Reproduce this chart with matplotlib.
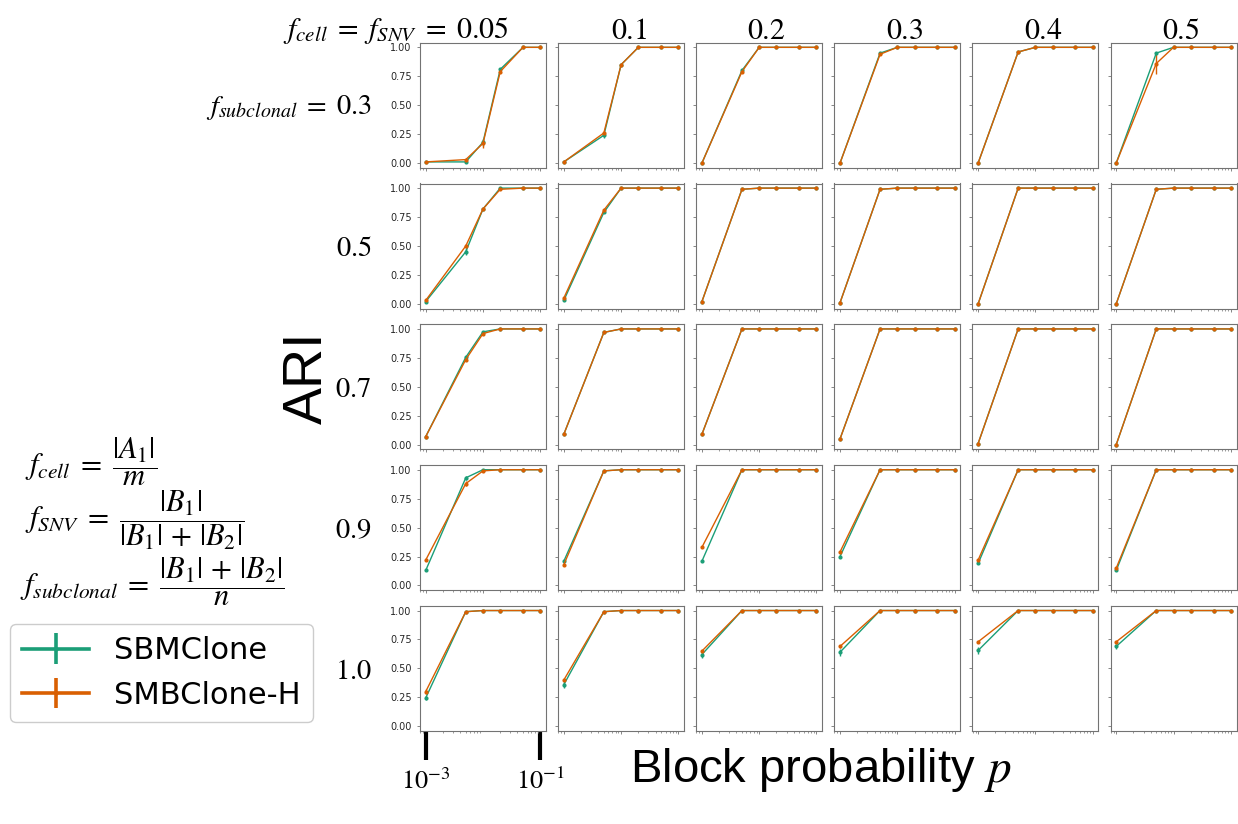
import matplotlib
matplotlib.use("Agg")
import matplotlib.pyplot as plt
from matplotlib.legend_handler import HandlerErrorbar
import numpy as np

plt.rcParams['mathtext.fontset'] = 'stix'

# block probabilities p (x axis, log scale)
P = [0.001, 0.005, 0.01, 0.02, 0.05, 0.1]
# columns: f_cell = f_SNV
F_CELL = ['0.05', '0.1', '0.2', '0.3', '0.4', '0.5']
# rows: f_subclonal
F_SUB = ['0.3', '0.5', '0.7', '0.9', '1.0']

# ARI per row (f_subclonal) -> per column (f_cell) -> values over P
SBM = [
    [[0.01, 0.01, 0.18, 0.81, 1.0, 1.0], [0.01, 0.24, 0.85, 1.0, 1.0, 1.0], [0.0, 0.80, 1.0, 1.0, 1.0, 1.0],
     [0.0, 0.95, 1.0, 1.0, 1.0, 1.0], [0.0, 0.96, 1.0, 1.0, 1.0, 1.0], [0.0, 0.95, 1.0, 1.0, 1.0, 1.0]],
    [[0.02, 0.45, 0.82, 1.0, 1.0, 1.0], [0.03, 0.79, 1.0, 1.0, 1.0, 1.0], [0.02, 0.99, 1.0, 1.0, 1.0, 1.0],
     [0.01, 0.99, 1.0, 1.0, 1.0, 1.0], [0.0, 1.0, 1.0, 1.0, 1.0, 1.0], [0.0, 0.99, 1.0, 1.0, 1.0, 1.0]],
    [[0.07, 0.755, 0.975, 1.0, 1.0, 1.0], [0.09, 0.97, 1.0, 1.0, 1.0, 1.0], [0.09, 1.0, 1.0, 1.0, 1.0, 1.0],
     [0.05, 1.0, 1.0, 1.0, 1.0, 1.0], [0.01, 1.0, 1.0, 1.0, 1.0, 1.0], [0.0, 1.0, 1.0, 1.0, 1.0, 1.0]],
    [[0.13, 0.93, 1.0, 1.0, 1.0, 1.0], [0.21, 0.99, 1.0, 1.0, 1.0, 1.0], [0.21, 1.0, 1.0, 1.0, 1.0, 1.0],
     [0.25, 1.0, 1.0, 1.0, 1.0, 1.0], [0.19, 1.0, 1.0, 1.0, 1.0, 1.0], [0.13, 1.0, 1.0, 1.0, 1.0, 1.0]],
    [[0.245, 0.99, 1.0, 1.0, 1.0, 1.0], [0.36, 0.99, 1.0, 1.0, 1.0, 1.0], [0.62, 1.0, 1.0, 1.0, 1.0, 1.0],
     [0.64, 1.0, 1.0, 1.0, 1.0, 1.0], [0.655, 1.0, 1.0, 1.0, 1.0, 1.0], [0.69, 1.0, 1.0, 1.0, 1.0, 1.0]],
]
SBMH = [
    [[0.01, 0.03, 0.17, 0.79, 1.0, 1.0], [0.01, 0.26, 0.85, 1.0, 1.0, 1.0], [0.0, 0.79, 1.0, 1.0, 1.0, 1.0],
     [0.0, 0.94, 1.0, 1.0, 1.0, 1.0], [0.0, 0.96, 1.0, 1.0, 1.0, 1.0], [0.0, 0.86, 1.0, 1.0, 1.0, 1.0]],
    [[0.03, 0.50, 0.82, 0.99, 1.0, 1.0], [0.05, 0.81, 1.0, 1.0, 1.0, 1.0], [0.02, 0.99, 1.0, 1.0, 1.0, 1.0],
     [0.01, 0.99, 1.0, 1.0, 1.0, 1.0], [0.0, 1.0, 1.0, 1.0, 1.0, 1.0], [0.0, 0.99, 1.0, 1.0, 1.0, 1.0]],
    [[0.07, 0.735, 0.96, 1.0, 1.0, 1.0], [0.09, 0.97, 1.0, 1.0, 1.0, 1.0], [0.09, 1.0, 1.0, 1.0, 1.0, 1.0],
     [0.05, 1.0, 1.0, 1.0, 1.0, 1.0], [0.01, 1.0, 1.0, 1.0, 1.0, 1.0], [0.0, 1.0, 1.0, 1.0, 1.0, 1.0]],
    [[0.22, 0.88, 0.99, 1.0, 1.0, 1.0], [0.18, 0.99, 1.0, 1.0, 1.0, 1.0], [0.33, 1.0, 1.0, 1.0, 1.0, 1.0],
     [0.29, 1.0, 1.0, 1.0, 1.0, 1.0], [0.22, 1.0, 1.0, 1.0, 1.0, 1.0], [0.15, 1.0, 1.0, 1.0, 1.0, 1.0]],
    [[0.30, 0.99, 1.0, 1.0, 1.0, 1.0], [0.40, 0.99, 1.0, 1.0, 1.0, 1.0], [0.65, 1.0, 1.0, 1.0, 1.0, 1.0],
     [0.69, 1.0, 1.0, 1.0, 1.0, 1.0], [0.73, 1.0, 1.0, 1.0, 1.0, 1.0], [0.73, 1.0, 1.0, 1.0, 1.0, 1.0]],
]
# visible error bars: (row, col, point index, SBMClone err, SBMClone-H err)
ERRS = [
    (0, 0, 2, 0.03, 0.04), (0, 1, 1, 0.02, 0.01), (0, 5, 1, 0.01, 0.09),
    (1, 0, 1, 0.03, 0.02), (3, 0, 1, 0.02, 0.02),
    (4, 0, 0, 0.02, 0.02), (4, 1, 0, 0.03, 0.01), (4, 2, 0, 0.03, 0.01),
    (4, 3, 0, 0.03, 0.01), (4, 4, 0, 0.03, 0.01), (4, 5, 0, 0.02, 0.01),
]

GREEN = '#1b9e77'
ORANGE = '#d95f02'

err_sbm = np.zeros((len(F_SUB), len(F_CELL), len(P)))
err_sbmh = np.zeros_like(err_sbm)
for r, c, i, e1, e2 in ERRS:
    err_sbm[r, c, i] = e1
    err_sbmh[r, c, i] = e2

W, H = 1238, 824
fig = plt.figure(figsize=(W / 100, H / 100), dpi=100)

left0, top0 = 420, 42.7
dx, dy = 138.1, 140.8
aw, ah = 126, 125
EQ = r'\;=\;'

handles = None
for r in range(len(F_SUB)):
    for c in range(len(F_CELL)):
        x0 = left0 + c * dx
        y0 = top0 + r * dy
        ax = fig.add_axes([x0 / W, 1 - (y0 + ah) / H, aw / W, ah / H])
        h1 = ax.errorbar(P, SBM[r][c], yerr=err_sbm[r, c], color=GREEN, lw=1.0,
                         marker='o', ms=2.0, elinewidth=1.0, capsize=0)
        h2 = ax.errorbar(P, SBMH[r][c], yerr=err_sbmh[r, c], color=ORANGE, lw=1.0,
                         marker='o', ms=2.0, elinewidth=1.0, capsize=0)
        handles = [h1, h2]
        ax.set_xscale('log')
        ax.set_ylim(-0.04, 1.04)
        ax.set_yticks([0, 0.25, 0.5, 0.75, 1.0])
        for sp in ax.spines.values():
            sp.set_color('0.45')
            sp.set_linewidth(0.8)
        ax.tick_params(which='both', color='0.45', labelcolor='0.15', labelsize=7,
                       length=2.5, width=0.6)
        ax.tick_params(which='minor', length=1.5, width=0.5)
        ax.set_xticklabels([], minor=True)
        if c != 0:
            ax.set_yticklabels([])
        if r == len(F_SUB) - 1 and c == 0:
            ax.set_xticks([1e-3, 1e-1])
            ax.set_xticklabels([r'$10^{-3}$', r'$10^{-1}$'])
            ax.tick_params(axis='x', which='major', length=21, width=3, color='black',
                           labelsize=19, labelcolor='black', pad=6)
        else:
            ax.set_xticklabels([])
        if r == 0:
            if c == 0:
                ax.text(0.70, 1.1, r'$f_{cell}' + EQ + r'f_{SNV}' + EQ + F_CELL[c] + '$',
                        transform=ax.transAxes, ha='right', va='center', fontsize=21.5)
            else:
                ax.text(0.56, 1.1, '$' + F_CELL[c] + '$', transform=ax.transAxes,
                        ha='center', va='center', fontsize=21.5)
        if c == 0:
            lab = '$' + F_SUB[r] + '$'
            if r == 0:
                lab = r'$f_{subclonal}' + EQ + F_SUB[r] + '$'
            ax.text(-0.385, 0.48, lab, transform=ax.transAxes, ha='right', va='center',
                    fontsize=20.5)

fig.text(308 / W, 1 - 378 / H, 'ARI', rotation=90, ha='center', va='center',
         fontsize=40, family='Liberation Sans')
fig.text(821 / W, 1 - 770 / H, 'Block probability $p$', ha='center', va='center',
         fontsize=34, family='Liberation Sans')

fig.text(25 / W, 1 - 462 / H, r'$f_{cell}' + EQ + r'\dfrac{|A_1|}{m}$', ha='left',
         va='center', fontsize=22)
fig.text(25 / W, 1 - 520 / H, r'$f_{SNV}' + EQ + r'\dfrac{|B_1|}{|B_1|\,+\,|B_2|}$',
         ha='left', va='center', fontsize=22)
fig.text(20 / W, 1 - 582 / H, r'$f_{subclonal}' + EQ + r'\dfrac{|B_1|\,+\,|B_2|}{n}$',
         ha='left', va='center', fontsize=22)


def thick(legend_handle, orig_handle):
    legend_handle.update_from(orig_handle)
    legend_handle.set_linewidth(2.6)


fig.legend(handles, ['SBMClone', 'SMBClone-H'], loc='upper left',
           bbox_to_anchor=(10 / W, 1 - 624 / H), fontsize=22, handlelength=2.2,
           handler_map={type(handles[0]): HandlerErrorbar(update_func=thick)},
           borderaxespad=0, framealpha=1, edgecolor='0.8')

fig.savefig('out.png', dpi=100)
